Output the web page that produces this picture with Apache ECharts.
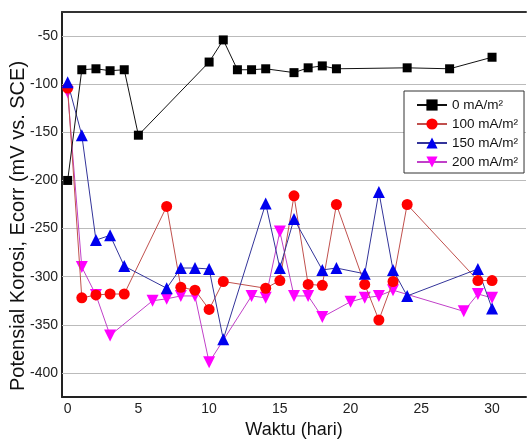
<!DOCTYPE html>
<html><head><meta charset="utf-8">
<script src="https://cdn.jsdelivr.net/npm/echarts@6/dist/echarts.min.js"></script>
<style>html,body{margin:0;padding:0;background:#fff}#c{width:529px;height:444px}</style>
</head><body><div id="c"></div>
<script>
var seriesNames = ['0 mA/m\u00b2', '100 mA/m\u00b2', '150 mA/m\u00b2', '200 mA/m\u00b2'];
var days0 = [0, 1, 2, 3, 4, 5, 10, 11, 12, 13, 14, 16, 17, 18, 19, 24, 27, 30];
var vals0 = [-200, -85, -84, -86, -85, -153, -77, -54, -85, -85, -84, -88, -83, -81, -84, -83, -84, -72];
var days100 = [0, 1, 2, 3, 4, 7, 8, 9, 10, 11, 14, 15, 16, 17, 18, 19, 21, 22, 23, 24, 29, 30];
var vals100 = [-104, -322, -319, -318, -318, -227, -311, -314, -334, -305, -312, -304, -216, -308, -309, -225, -308, -345, -305, -225, -304, -304];
var days150 = [0, 1, 2, 3, 4, 7, 8, 9, 10, 11, 14, 15, 16, 18, 19, 21, 22, 23, 24, 29, 30];
var vals150 = [-98, -153, -262, -257, -289, -312, -291, -291, -292, -365, -224, -291, -240, -293, -291, -297, -212, -293, -320, -292, -333];
var days200 = [0, 1, 2, 3, 6, 7, 8, 9, 10, 13, 14, 15, 16, 17, 18, 20, 21, 22, 23, 28, 29, 30];
var vals200 = [-108, -290, -319, -361, -325, -323, -320, -320, -389, -320, -322, -253, -320, -320, -342, -326, -322, -320, -314, -336, -318, -322];
var yTicks = [-400, -350, -300, -250, -200, -150, -100, -50];
var xTicks = [0, 5, 10, 15, 20, 25, 30];
var yTitle = 'Potensial Korosi, Ecorr (mV vs. SCE)';
var xTitle = 'Waktu (hari)';

function pairs(xs, ys) { return xs.map(function (x, i) { return [x, ys[i]]; }); }
var FONT = 'Liberation Sans';
var chart = echarts.init(document.getElementById('c'), null, {renderer: 'canvas'});
var gridLines = yTicks.map(function (v) { return {yAxis: v}; });
chart.setOption({
  animation: false,
  textStyle: {fontFamily: FONT},
  grid: {left: 62, top: 12, width: 467, bottom: 46, containLabel: false},
  graphic: [{
    type: 'text', x: 18, y: 226, rotation: Math.PI / 2,
    style: {text: yTitle, fontFamily: FONT, fontSize: 20, fill: '#111', align: 'center', verticalAlign: 'middle'}
  }],
  legend: {
    left: 404, top: 91, orient: 'vertical',
    backgroundColor: '#fff', borderColor: '#333', borderWidth: 1,
    padding: [7, 6, 4, 12], itemGap: 5, itemWidth: 30, itemHeight: 14,
    textStyle: {fontFamily: FONT, fontSize: 13.5, color: '#111'},
    data: seriesNames
  },
  xAxis: [{
    type: 'value', min: -0.4, max: 32.4, interval: 0.2,
    name: xTitle, nameLocation: 'middle', nameGap: 24,
    nameTextStyle: {fontFamily: FONT, fontSize: 18, color: '#111'},
    axisLine: {show: true, onZero: false, lineStyle: {color: '#222', width: 2}},
    axisTick: {show: false}, splitLine: {show: false},
    axisLabel: {fontFamily: FONT, fontSize: 14, color: '#222', margin: 5,
      formatter: function (v) { var r = Math.round(v * 10) / 10; return xTicks.indexOf(r) >= 0 ? String(r) : ''; }}
  }, {
    type: 'value', position: 'top', min: -0.4, max: 32.4,
    axisLine: {show: true, lineStyle: {color: '#333', width: 2}},
    axisTick: {show: false}, axisLabel: {show: false}, splitLine: {show: false}
  }],
  yAxis: {
    type: 'value', min: -425, max: -25, interval: 25,
    axisLine: {show: true, onZero: false, lineStyle: {color: '#222', width: 2}},
    axisTick: {show: false}, splitLine: {show: false},
    axisLabel: {fontFamily: FONT, fontSize: 14, color: '#222', margin: 4,
      formatter: function (v) { return yTicks.indexOf(Math.round(v)) >= 0 ? String(v) : ''; }}
  },
  series: [
    {name: seriesNames[0], type: 'line', data: pairs(days0, vals0), symbol: 'rect', symbolSize: 9,
     itemStyle: {color: '#000'}, lineStyle: {color: '#111', width: 1}, z: 5,
     markLine: {silent: true, symbol: 'none', label: {show: false}, animation: false,
       lineStyle: {color: '#bbb', width: 1.2, type: 'solid'}, data: gridLines, z: 1}},
    {name: seriesNames[1], type: 'line', data: pairs(days100, vals100), symbol: 'circle', symbolSize: 11,
     itemStyle: {color: '#ff0000'}, lineStyle: {color: '#c0504d', width: 1}, z: 4},
    {name: seriesNames[2], type: 'line', data: pairs(days150, vals150), symbol: 'triangle', symbolSize: 12,
     itemStyle: {color: '#0000ee'}, lineStyle: {color: '#33349a', width: 1}, z: 4},
    {name: seriesNames[3], type: 'line', data: pairs(days200, vals200), symbol: 'triangle', symbolRotate: 180, symbolSize: 12,
     itemStyle: {color: '#ff00ff'}, lineStyle: {color: '#c040c8', width: 1}, z: 3}
  ]
});
</script></body></html>
